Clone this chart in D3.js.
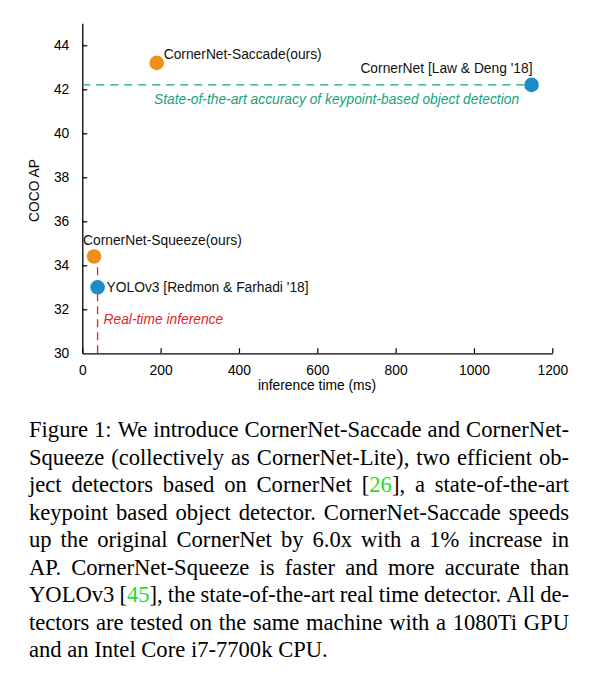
<!DOCTYPE html>
<html><head><meta charset="utf-8">
<script src="https://cdn.jsdelivr.net/npm/d3@7"></script>
<style>body{margin:0;background:#fff}svg{display:block}</style>
</head><body>
<svg id="c" width="610" height="674"></svg>
<script>
// ---- data ----
const models = ["CornerNet-Saccade(ours)", "CornerNet [Law & Deng '18]", "CornerNet-Squeeze(ours)", "YOLOv3 [Redmon & Farhadi '18]"];
const timesMs = [190, 1147, 30, 39];
const cocoAP = [43.2, 42.2, 34.4, 33.0];
const isOurs = [true, false, true, false];
const xTicks = [0, 200, 400, 600, 800, 1000, 1200];
const yTicks = [30, 32, 34, 36, 38, 40, 42, 44];
const sotaAP = 42.2, sotaTime = 1147;
const realtimeMs = 39, realtimeTopAP = 34;
const sotaText = "State-of-the-art accuracy of keypoint-based object detection";
const realtimeText = "Real-time inference";
const xTitle = "inference time (ms)", yTitle = "COCO AP";
const captionLines = [
  "Figure 1: We introduce CornerNet-Saccade and CornerNet-",
  "Squeeze (collectively as CornerNet-Lite), two efficient ob-",
  "ject detectors based on CornerNet [{26}], a state-of-the-art",
  "keypoint based object detector. CornerNet-Saccade speeds",
  "up the original CornerNet by 6.0x with a 1% increase in",
  "AP. CornerNet-Squeeze is faster and more accurate than",
  "YOLOv3 [{45}], the state-of-the-art real time detector. All de-",
  "tectors are tested on the same machine with a 1080Ti GPU",
  "and an Intel Core i7-7700k CPU."
];

// ---- styles / layout ----
const C = {orange:"#EF8E18", blue:"#1C8CC8", green:"#14A37C", red:"#E8212C", cite:"#1ee01e"};
const sans = "'Liberation Sans', Arial, sans-serif";
const fs = 13.8;
// label offsets (dx, dy, anchor) per point
const labelPos = [[7,-4,"start"],[1,-12,"end"],[-11,-12,"start"],[9,4.5,"start"]];

const svg = d3.select("#c");
svg.append("rect").attr("width",610).attr("height",674).attr("fill","#fff");

const x = d3.scaleLinear().domain([0,1200]).range([82.3,552.3]);
const y = d3.scaleLinear().domain([30,45]).range([353.3,23.3]);

const g = svg.append("g");

// axes
const xAxis = d3.axisBottom(x).tickValues(xTicks).tickFormat(d3.format("d")).tickSizeInner(-5).tickSizeOuter(0).tickPadding(12);
const yAxis = d3.axisLeft(y).tickValues(yTicks).tickFormat(d3.format("d")).tickSizeInner(-5).tickSizeOuter(0).tickPadding(13);
const gx = g.append("g").attr("transform",`translate(0,${y(30)})`).call(xAxis);
const gy = g.append("g").attr("transform",`translate(${x(0)},0)`).call(yAxis);
[gx,gy].forEach(a=>{
  a.select(".domain").attr("stroke","#000").attr("stroke-width",1.3);
  a.selectAll(".tick line").attr("stroke","#000").attr("stroke-width",1.2);
  a.selectAll(".tick text").attr("font-family",sans).attr("font-size",fs).attr("fill","#000");
});
gy.selectAll(".tick").filter(d=>d===30).select("line").remove();

// axis titles
g.append("text").attr("x",317).attr("y",390).attr("text-anchor","middle")
 .attr("font-family",sans).attr("font-size",fs).text(xTitle);
g.append("text").attr("transform",`translate(39,${y(37.4)}) rotate(-90)`).attr("text-anchor","middle")
 .attr("font-family",sans).attr("font-size",fs).text(yTitle);

// reference lines
g.append("line").attr("x1",x(0)).attr("x2",x(sotaTime)).attr("y1",y(sotaAP)).attr("y2",y(sotaAP))
 .attr("stroke",C.green).attr("stroke-width",1.3).attr("stroke-dasharray","8,6");
g.append("line").attr("x1",x(realtimeMs)).attr("x2",x(realtimeMs)).attr("y1",y(30)).attr("y2",y(realtimeTopAP))
 .attr("stroke",C.red).attr("stroke-width",1.3).attr("stroke-dasharray","8,5");
g.append("text").attr("x",154).attr("y",y(sotaAP)+19).attr("font-family",sans).attr("font-style","italic")
 .attr("font-size",fs).attr("fill",C.green).text(sotaText);
g.append("text").attr("x",x(realtimeMs)+6).attr("y",324).attr("font-family",sans).attr("font-style","italic")
 .attr("font-size",fs).attr("fill",C.red).text(realtimeText);

// points
const idx = d3.range(models.length);
g.selectAll("circle.pt").data(idx).join("circle").attr("class","pt")
 .attr("cx",i=>x(timesMs[i])).attr("cy",i=>y(cocoAP[i])).attr("r",7.3)
 .attr("fill",i=>isOurs[i]?C.orange:C.blue);
g.selectAll("text.lbl").data(idx).join("text").attr("class","lbl")
 .attr("x",i=>x(timesMs[i])+labelPos[i][0]).attr("y",i=>y(cocoAP[i])+labelPos[i][1])
 .attr("text-anchor",i=>labelPos[i][2])
 .attr("font-family",sans).attr("font-size",fs).attr("fill","#111").text(i=>models[i]);

// caption (justified lines)
const serif = "'Liberation Serif', 'Times New Roman', serif";
const capFs = 22.6, capX0 = 29, capW = 540, capY0 = 437, capLH = 27.5;
const cap = svg.append("g").attr("font-family",serif).attr("font-size",capFs).attr("fill","#000");
captionLines.forEach((line,li)=>{
  const words = line.split(" ");
  const by = capY0 + li*capLH;
  const nodes = words.map(w=>{
    const t = cap.append("text").attr("y",by);
    w.split(/(\{\d+\})/).filter(s=>s.length).forEach(p=>{
      const m = p.match(/^\{(\d+)\}$/);
      t.append("tspan").text(m?m[1]:p).attr("fill",m?C.cite:null);
    });
    return t;
  });
  let widths = nodes.map(n=>n.node().getComputedTextLength());
  const last = li===captionLines.length-1;
  let gap = last ? capFs*0.25 : (capW-d3.sum(widths))/(words.length-1);
  if (!last && gap < 3) {
    const k = (capW - 3*(words.length-1))/d3.sum(widths);
    widths = widths.map(w=>w*k);
    nodes.forEach((n,i)=>n.attr("textLength",widths[i]).attr("lengthAdjust","spacingAndGlyphs"));
    gap = 3;
  }
  let cx = capX0;
  nodes.forEach((n,i)=>{ n.attr("x",cx); cx += widths[i]+gap; });
});
</script>
</body></html>
